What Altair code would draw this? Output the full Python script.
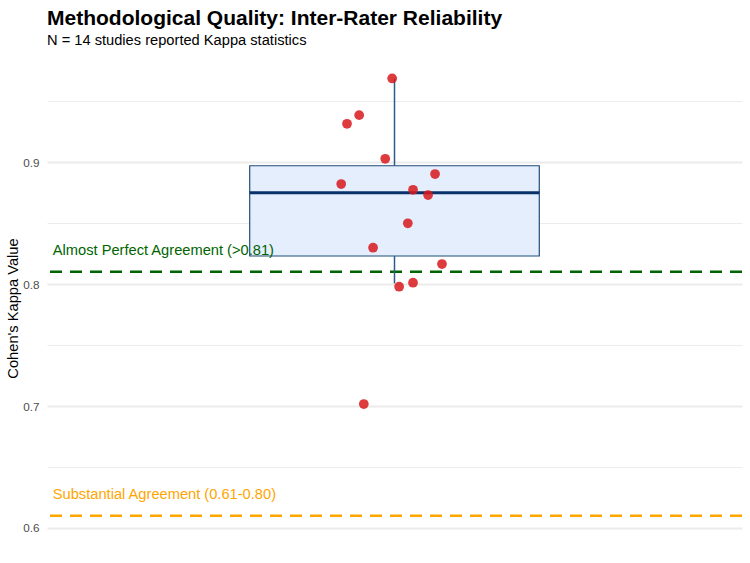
import altair as alt
import pandas as pd

# ---- data ----
kappa = [0.9686, 0.9385, 0.9314, 0.9027, 0.8820, 0.8902, 0.8773,
         0.8730, 0.8498, 0.8298, 0.8164, 0.8011, 0.7978, 0.7016]
jitter = [-0.004, -0.061, -0.082, -0.016, -0.092, 0.070, 0.032,
          0.058, 0.023, -0.037, 0.082, 0.032, 0.008, -0.053]

stat_names = ["lower", "q1", "median", "q3", "upper"]
stat_values = [0.8005, 0.823, 0.8748, 0.897, 0.9686]

thresh_values = [0.81, 0.61]
thresh_labels = ["Almost Perfect Agreement (>0.81)", "Substantial Agreement (0.61-0.80)"]
thresh_label_y = [0.83, 0.63]
thresh_label_x = [0.41, 0.41]
thresh_colors = ["#006400", "#FFA500"]

grid_values = [0.6, 0.65, 0.7, 0.75, 0.8, 0.85, 0.9, 0.95]

FONT = "Liberation Sans"

s = dict(zip(stat_names, stat_values))
points = pd.DataFrame({"x": [1 + j for j in jitter], "kappa": kappa})
box = pd.DataFrame({"x": [0.75], "x2": [1.25], "q1": [s["q1"]], "q3": [s["q3"]], "median": [s["median"]]})
whisk = pd.DataFrame({"x": [1, 1], "y": [s["lower"], s["q3"]], "y2": [s["q1"], s["upper"]]})
thr = pd.DataFrame({"v": thresh_values, "label": thresh_labels, "ly": thresh_label_y,
                    "lx": thresh_label_x, "color": thresh_colors})

xs = alt.Scale(domain=[0.4, 1.6], nice=False, zero=False)
ys = alt.Scale(domain=[0.577, 0.987], nice=False, zero=False)

major_test = "round(datum.value*100) % 10 == 0"
y_axis = alt.Axis(
    values=grid_values,
    labelExpr=f"{major_test} ? format(datum.value, '.1f') : ''",
    ticks=False, domain=False, labelPadding=8, labelOverlap=False,
    labelFontSize=11.7, labelColor="#4D4D4D", labelFont=FONT,
    title="Cohen's Kappa Value", titleFont=FONT, titleFontSize=14.67,
    titleFontWeight="normal", titleColor="black",
    titleX=-34, titleY=252, titleAngle=270, titleAlign="center", titleBaseline="middle",
    gridColor="#EBEBEB",
    gridWidth={"condition": {"test": major_test, "value": 1.9}, "value": 0.95},
)

def Y(field):
    return alt.Y(field, type="quantitative", scale=ys, axis=y_axis)

def X(field):
    return alt.X(field, type="quantitative", scale=xs, axis=None)

rules = alt.Chart(thr).mark_rule(strokeDash=[12, 8], strokeWidth=2.5).encode(
    y=Y("v"), color=alt.Color("color:N", scale=None)
)

box_rect = alt.Chart(box).mark_rect(fill="#E5EEFC", stroke="#1F4E79", strokeWidth=1.2).encode(
    x=X("x"), x2="x2", y=Y("q1"), y2="q3"
)

whiskers = alt.Chart(whisk).mark_rule(color="#2B5C8A", strokeWidth=1.5).encode(
    x=X("x"), y=Y("y"), y2="y2"
)

median = alt.Chart(box).mark_rule(color="#08306B", strokeWidth=3).encode(
    x=X("x"), x2="x2", y=Y("median")
)

pts = alt.Chart(points).mark_circle(size=95, color="#D7191C", opacity=0.85).encode(
    x=X("x"), y=Y("kappa")
)

labels = alt.Chart(thr).mark_text(align="left", baseline="middle", dy=4, fontSize=14.67, font=FONT).encode(
    x=X("lx"), y=Y("ly"), text="label:N", color=alt.Color("color:N", scale=None)
)

chart = alt.layer(rules, box_rect, whiskers, median, pts, labels).properties(
    width=695, height=500,
    autosize=alt.AutoSizeParams(type="none"),
    padding={"left": 47, "top": 56, "right": 8, "bottom": 7},
    title=alt.TitleParams(
        text="Methodological Quality: Inter-Rater Reliability",
        subtitle="N = 14 studies reported Kappa statistics",
        anchor="start", frame="group", font=FONT, fontSize=21, fontWeight="bold",
        color="black", subtitleFont=FONT, subtitleFontSize=14.67, subtitleColor="black",
        offset=8, subtitlePadding=4,
    ),
).configure(background="white").configure_view(stroke=None)

chart.save("out.html", embed_options={"renderer": "svg", "actions": False})
